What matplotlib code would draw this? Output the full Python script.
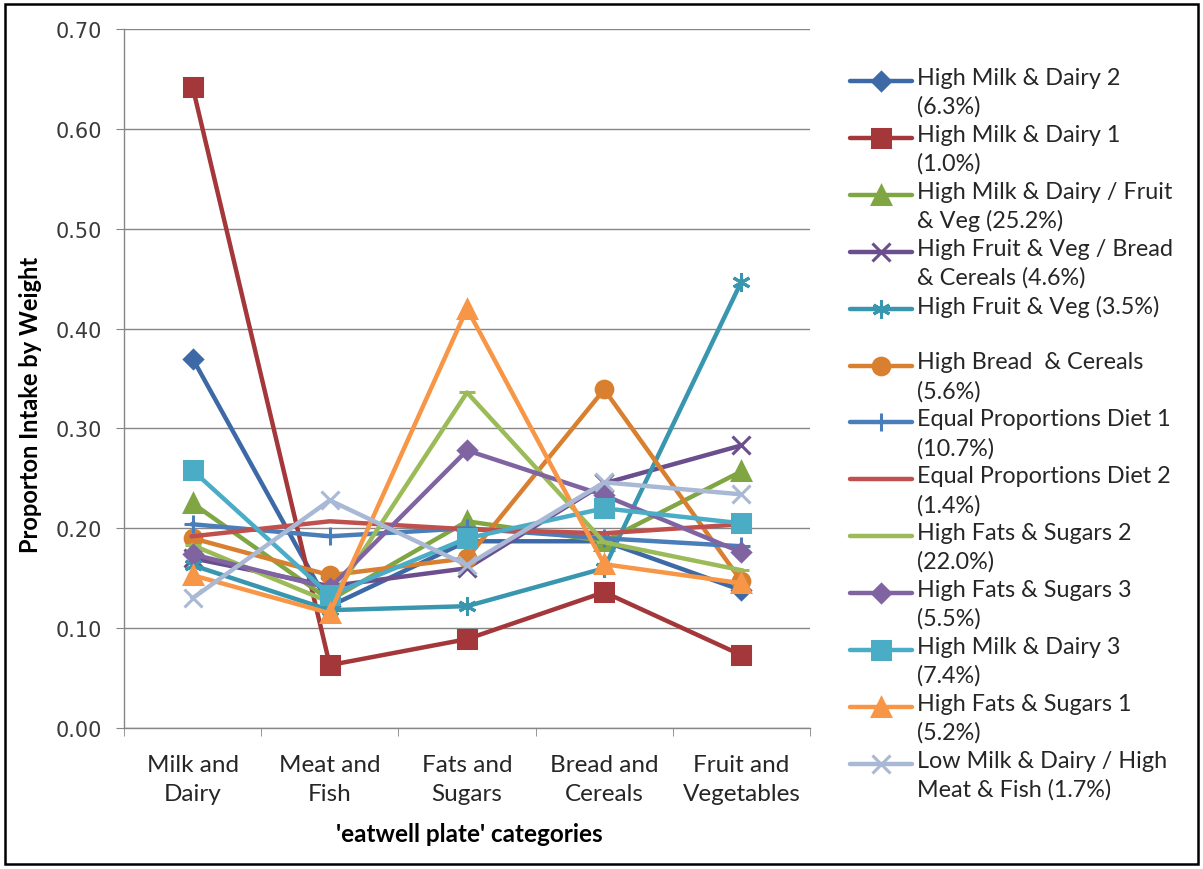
import matplotlib
matplotlib.use("Agg")
import matplotlib.pyplot as plt
from matplotlib.lines import Line2D
from matplotlib.patches import Rectangle

categories = ["Milk and\nDairy", "Meat and\nFish", "Fats and\nSugars",
              "Bread and\nCereals", "Fruit and\nVegetables"]

labels = [
    "High Milk & Dairy 2\n(6.3%)",
    "High Milk & Dairy 1\n(1.0%)",
    "High Milk & Dairy / Fruit\n& Veg (25.2%)",
    "High Fruit & Veg / Bread\n& Cereals (4.6%)",
    "High Fruit & Veg (3.5%)",
    "High Bread  & Cereals\n(5.6%)",
    "Equal Proportions Diet 1\n(10.7%)",
    "Equal Proportions Diet 2\n(1.4%)",
    "High Fats & Sugars 2\n(22.0%)",
    "High Fats & Sugars 3\n(5.5%)",
    "High Milk & Dairy 3\n(7.4%)",
    "High Fats & Sugars 1\n(5.2%)",
    "Low Milk & Dairy / High\nMeat & Fish (1.7%)",
]

high_milk_2 = [0.370, 0.122, 0.187, 0.187, 0.138]
high_milk_1 = [0.642, 0.063, 0.089, 0.136, 0.073]
high_milk_fruit = [0.225, 0.128, 0.207, 0.187, 0.257]
high_fruit_bread = [0.170, 0.142, 0.160, 0.245, 0.283]
high_fruit = [0.163, 0.118, 0.122, 0.160, 0.447]
high_bread = [0.190, 0.153, 0.170, 0.339, 0.147]
equal_1 = [0.204, 0.192, 0.200, 0.190, 0.182]
equal_2 = [0.192, 0.207, 0.199, 0.195, 0.204]
high_fats_2 = [0.183, 0.126, 0.336, 0.186, 0.158]
high_fats_3 = [0.174, 0.140, 0.278, 0.233, 0.176]
high_milk_3 = [0.258, 0.133, 0.190, 0.220, 0.205]
high_fats_1 = [0.153, 0.115, 0.420, 0.164, 0.145]
low_milk = [0.130, 0.228, 0.163, 0.246, 0.234]

series = [high_milk_2, high_milk_1, high_milk_fruit, high_fruit_bread, high_fruit,
          high_bread, equal_1, equal_2, high_fats_2, high_fats_3, high_milk_3,
          high_fats_1, low_milk]

colors = ["#3D6AA6", "#A3373A", "#80A644", "#6A4E8E", "#3896AE", "#D98030",
          "#4A7EBB", "#C0504D", "#9BBB59", "#8064A2", "#4BACC6", "#F79646",
          "#A9B9D5"]
markers = ["D", "s", "^", "x", (6, 2, 0), "o", "+", "_", "_", "D", "s", "^", "x"]
msizes = [9, 13, 13, 13, 13, 12, 13, 6, 12, 9, 13, 13, 13]

W, H = 1203, 870
fig = plt.figure(figsize=(W / 100, H / 100), dpi=100)
ax = fig.add_axes([124 / W, 1 - 729 / H, (810 - 124) / W, (729 - 30) / H])

x = range(len(categories))
for vals, c, m, ms in zip(series, colors, markers, msizes):
    ax.plot(x, vals, color=c, lw=3.2, marker=m, ms=ms, mfc=c, mec=c, mew=2.2,
            solid_joinstyle="round", clip_on=False)

ax.set_xlim(-0.5, 4.5)
ax.set_ylim(0, 0.70)
ax.set_yticks([i / 10 for i in range(8)])
ax.set_yticklabels([f"{i / 10:.2f}" for i in range(8)], fontsize=15,
                   family="DejaVu Sans", color="#3a3a3a")
ax.set_xticks(list(x))
ax.set_xticklabels(categories, fontsize=17.5, family="Lato", linespacing=1.45,
                   color="#262626")
ax.set_xticks([i - 0.5 for i in range(6)], minor=True)
ax.tick_params(axis="x", which="major", length=0, pad=19)
ax.tick_params(axis="x", which="minor", length=6, color="#868686")
ax.tick_params(axis="y", length=6, color="#868686", pad=10)
ax.grid(axis="y", color="#868686", lw=1)
ax.set_axisbelow(True)
for side in ("top", "right"):
    ax.spines[side].set_visible(False)
for side in ("left", "bottom"):
    ax.spines[side].set_color("#868686")
    ax.spines[side].set_linewidth(1)

fig.text(31 / W, 1 - 405 / H, "Proporton Intake by Weight", rotation=90,
         fontsize=17, family="Lato", fontweight="bold", ha="center", va="center")
fig.text(469 / W, 1 - 835 / H, "'eatwell plate' categories", fontsize=17.5,
         family="Lato", fontweight="bold", ha="center", va="center")

# legend: handle aligned with the first line of each entry
y0, step = 82, 56.9
for i, (lab, c, m, ms) in enumerate(zip(labels, colors, markers, msizes)):
    yh = y0 + i * step
    yc = 1 - yh / H
    fig.add_artist(Line2D([850 / W, 912 / W], [yc, yc], transform=fig.transFigure,
                          color=c, lw=3.2, solid_capstyle="round"))
    fig.add_artist(Line2D([881 / W], [yc], transform=fig.transFigure, color=c,
                          marker=m, ms=ms, mfc=c, mec=c, mew=2.2, lw=0))
    fig.text(917 / W, 1 - (yh - 14) / H, lab, fontsize=16.8, family="Lato",
             color="#262626", va="top", ha="left", linespacing=1.42)

fig.add_artist(Rectangle((5 / W, 5 / H), 1 - 10 / W, 1 - 10 / H,
                         transform=fig.transFigure, fill=False, ec="black", lw=1.8))

fig.savefig("out.png", dpi=100)
